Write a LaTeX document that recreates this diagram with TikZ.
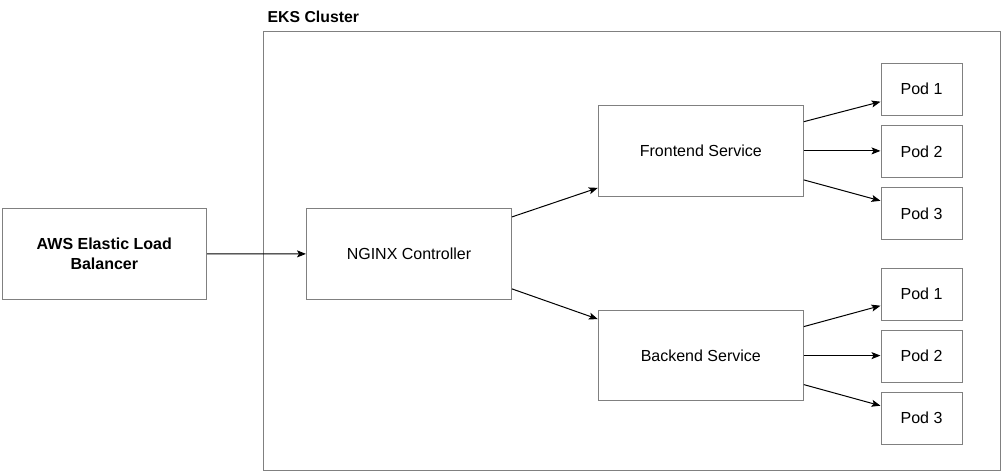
\documentclass[tikz,border=0pt]{standalone}
\usepackage{fontspec}
\setmainfont{Liberation Sans}
\usetikzlibrary{arrows.meta,calc}
\definecolor{boxgray}{RGB}{128,128,128}
\tikzset{
  base/.style={draw=boxgray,line width=1pt,rectangle,inner sep=0pt,
    font=\fontsize{16}{20}\selectfont,align=center},
  bigbox/.style={base,minimum width=205pt,minimum height=90.5pt},
  podbox/.style={base,minimum width=81pt,minimum height=52pt},
  conn/.style={draw=black,line width=1pt,-{Stealth[length=9pt,width=7pt,inset=2pt]}},
  cluster/.style={draw=boxgray,line width=1pt},
}
\begin{document}
\begin{tikzpicture}[x=1pt,y=-1pt]
\useasboundingbox (0,0) rectangle (1001,471);
\draw[cluster] (263,31) rectangle (1000,470.5);
\node[anchor=west,font=\fontsize{15.8}{18}\selectfont\bfseries,inner sep=0pt] (title) at (267.5,16.5) {EKS Cluster};
\node[bigbox,font=\fontsize{16}{20}\selectfont\bfseries,minimum width=204.5pt] (elb) at (104.3,253.8) {AWS Elastic Load\\Balancer};
\node[bigbox] (nginx) at (409,253.9) {NGINX Controller};
\node[bigbox] (fe) at (700.8,150.9) {Frontend Service};
\node[bigbox] (be) at (700.8,355.6) {Backend Service};
\node[podbox] (p1) at (921.5,89.2) {Pod 1};
\node[podbox] (p2) at (921.5,151.3) {Pod 2};
\node[podbox] (p3) at (921.5,213.3) {Pod 3};
\node[podbox] (q1) at (921.5,294.2) {Pod 1};
\node[podbox] (q2) at (921.5,356) {Pod 2};
\node[podbox] (q3) at (921.5,418) {Pod 3};
\draw[conn] (elb.east) -- (nginx.west);
\draw[conn] ([yshift=37pt]nginx.east) -- ([yshift=-37pt]fe.west);
\draw[conn] ([yshift=-35pt]nginx.east) -- ([yshift=36.5pt]be.west);
\draw[conn] ([yshift=29.2pt]fe.east) -- ([yshift=-12.5pt]p1.west);
\draw[conn] (fe.east) -- (p2.west |- fe.east);
\draw[conn] ([yshift=-29pt]fe.east) -- ([yshift=12.5pt]p3.west);
\draw[conn] ([yshift=29pt]be.east) -- ([yshift=-11.5pt]q1.west);
\draw[conn] (be.east) -- (q2.west |- be.east);
\draw[conn] ([yshift=-29pt]be.east) -- ([yshift=12.3pt]q3.west);
\end{tikzpicture}
\end{document}
